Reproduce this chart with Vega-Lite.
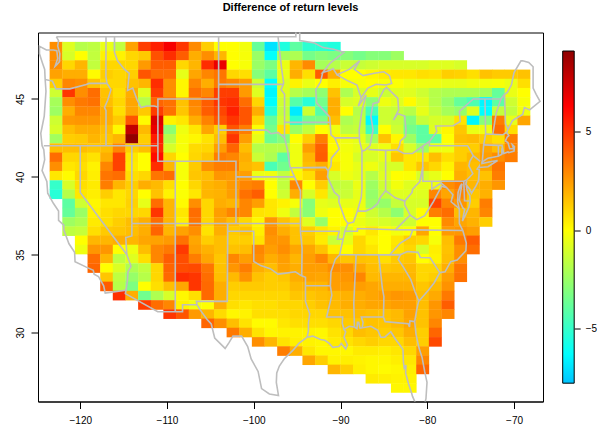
{"$schema":"https://vega.github.io/schema/vega-lite/v6.json","background":"white","padding":{"left":14,"top":1.5,"right":0,"bottom":0},"spacing":17.7,
"config":{"font":"Liberation Sans","view":{"stroke":null}},
"datasets":{"cells":[
{"lon":-122.78,"lat":48.36,"z":2.8},{"lon":-121.32,"lat":48.36,"z":-0.8},{"lon":-119.87,"lat":48.36,"z":-1.8},{"lon":-118.41,"lat":48.36,"z":-1.6},{"lon":-116.95,"lat":48.36,"z":-0.5},{"lon":-115.5,"lat":48.36,"z":-1.5},{"lon":-114.04,"lat":48.36,"z":2.3},{"lon":-112.58,"lat":48.36,"z":4.8},{"lon":-111.12,"lat":48.36,"z":5.5},{"lon":-109.67,"lat":48.36,"z":6.5},{"lon":-108.21,"lat":48.36,"z":5},{"lon":-106.75,"lat":48.36,"z":2.9},{"lon":-105.3,"lat":48.36,"z":1.2},{"lon":-103.84,"lat":48.36,"z":0},{"lon":-102.38,"lat":48.36,"z":0},{"lon":-100.93,"lat":48.36,"z":-0.3},{"lon":-99.47,"lat":48.36,"z":-3.8},{"lon":-98.01,"lat":48.36,"z":-7},{"lon":-96.55,"lat":48.36,"z":-5.5},{"lon":-95.1,"lat":48.36,"z":-4},{"lon":-93.64,"lat":48.36,"z":-5.2},{"lon":-92.18,"lat":48.36,"z":-5.2},{"lon":-90.73,"lat":48.36,"z":-5.5},
{"lon":-122.78,"lat":47.77,"z":2.8},{"lon":-121.32,"lat":47.77,"z":-1},{"lon":-119.87,"lat":47.77,"z":0},{"lon":-118.41,"lat":47.77,"z":-1.5},{"lon":-116.95,"lat":47.77,"z":0.3},{"lon":-115.5,"lat":47.77,"z":0.3},{"lon":-114.04,"lat":47.77,"z":1},{"lon":-112.58,"lat":47.77,"z":1.3},{"lon":-111.12,"lat":47.77,"z":4.3},{"lon":-109.67,"lat":47.77,"z":5.2},{"lon":-108.21,"lat":47.77,"z":4},{"lon":-106.75,"lat":47.77,"z":2},{"lon":-105.3,"lat":47.77,"z":2.8},{"lon":-103.84,"lat":47.77,"z":1.8},{"lon":-102.38,"lat":47.77,"z":0},{"lon":-100.93,"lat":47.77,"z":-0.2},{"lon":-99.47,"lat":47.77,"z":-2.5},{"lon":-98.01,"lat":47.77,"z":-6.2},{"lon":-96.55,"lat":47.77,"z":-2.2},{"lon":-95.1,"lat":47.77,"z":-2},{"lon":-93.64,"lat":47.77,"z":-3.4},{"lon":-92.18,"lat":47.77,"z":-3},{"lon":-90.73,"lat":47.77,"z":-3.2},{"lon":-89.27,"lat":47.77,"z":-3},{"lon":-87.81,"lat":47.77,"z":-3.4},{"lon":-86.36,"lat":47.77,"z":-3},{"lon":-84.9,"lat":47.77,"z":-3},{"lon":-83.44,"lat":47.77,"z":-2.4},
{"lon":-122.78,"lat":47.18,"z":2.8},{"lon":-121.32,"lat":47.18,"z":1},{"lon":-119.87,"lat":47.18,"z":1.8},{"lon":-118.41,"lat":47.18,"z":-1.5},{"lon":-116.95,"lat":47.18,"z":1},{"lon":-115.5,"lat":47.18,"z":1},{"lon":-114.04,"lat":47.18,"z":1},{"lon":-112.58,"lat":47.18,"z":2.5},{"lon":-111.12,"lat":47.18,"z":4},{"lon":-109.67,"lat":47.18,"z":4},{"lon":-108.21,"lat":47.18,"z":1},{"lon":-106.75,"lat":47.18,"z":1.8},{"lon":-105.3,"lat":47.18,"z":5.2},{"lon":-103.84,"lat":47.18,"z":6.8},{"lon":-102.38,"lat":47.18,"z":0},{"lon":-100.93,"lat":47.18,"z":-0.2},{"lon":-99.47,"lat":47.18,"z":-2.5},{"lon":-98.01,"lat":47.18,"z":-3.2},{"lon":-96.55,"lat":47.18,"z":-0.5},{"lon":-95.1,"lat":47.18,"z":1.8},{"lon":-93.64,"lat":47.18,"z":2.9},{"lon":-92.18,"lat":47.18,"z":-2.2},{"lon":-90.73,"lat":47.18,"z":-1.8},{"lon":-89.27,"lat":47.18,"z":-1.3},{"lon":-87.81,"lat":47.18,"z":-1.4},{"lon":-86.36,"lat":47.18,"z":-1.2},{"lon":-84.9,"lat":47.18,"z":-1},{"lon":-83.44,"lat":47.18,"z":-1},{"lon":-81.98,"lat":47.18,"z":-1},{"lon":-80.53,"lat":47.18,"z":-1},{"lon":-79.07,"lat":47.18,"z":-0.8},{"lon":-77.61,"lat":47.18,"z":-0.8},{"lon":-76.16,"lat":47.18,"z":-1},
{"lon":-122.78,"lat":46.58,"z":2.3},{"lon":-121.32,"lat":46.58,"z":2},{"lon":-119.87,"lat":46.58,"z":2},{"lon":-118.41,"lat":46.58,"z":0.1},{"lon":-116.95,"lat":46.58,"z":1.2},{"lon":-115.5,"lat":46.58,"z":1},{"lon":-114.04,"lat":46.58,"z":1.2},{"lon":-112.58,"lat":46.58,"z":4.2},{"lon":-111.12,"lat":46.58,"z":3.6},{"lon":-109.67,"lat":46.58,"z":3.6},{"lon":-108.21,"lat":46.58,"z":-0.6},{"lon":-106.75,"lat":46.58,"z":2.2},{"lon":-105.3,"lat":46.58,"z":3},{"lon":-103.84,"lat":46.58,"z":3.4},{"lon":-102.38,"lat":46.58,"z":1},{"lon":-100.93,"lat":46.58,"z":0.8},{"lon":-99.47,"lat":46.58,"z":-3},{"lon":-98.01,"lat":46.58,"z":-4},{"lon":-96.55,"lat":46.58,"z":-0.5},{"lon":-95.1,"lat":46.58,"z":2},{"lon":-93.64,"lat":46.58,"z":0.8},{"lon":-92.18,"lat":46.58,"z":4},{"lon":-90.73,"lat":46.58,"z":2},{"lon":-89.27,"lat":46.58,"z":0},{"lon":-87.81,"lat":46.58,"z":0},{"lon":-86.36,"lat":46.58,"z":0.2},{"lon":-84.9,"lat":46.58,"z":0.5},{"lon":-83.44,"lat":46.58,"z":0.6},{"lon":-81.98,"lat":46.58,"z":0.6},{"lon":-80.53,"lat":46.58,"z":0.8},{"lon":-79.07,"lat":46.58,"z":0.7},{"lon":-77.61,"lat":46.58,"z":1.2},{"lon":-76.16,"lat":46.58,"z":1.1},{"lon":-74.7,"lat":46.58,"z":0.8},{"lon":-73.24,"lat":46.58,"z":1.5},{"lon":-71.79,"lat":46.58,"z":1.3},{"lon":-70.33,"lat":46.58,"z":1.3},{"lon":-68.87,"lat":46.58,"z":1.5},
{"lon":-122.78,"lat":45.99,"z":1.2},{"lon":-121.32,"lat":45.99,"z":3},{"lon":-119.87,"lat":45.99,"z":2.8},{"lon":-118.41,"lat":45.99,"z":1.5},{"lon":-116.95,"lat":45.99,"z":1},{"lon":-115.5,"lat":45.99,"z":1},{"lon":-114.04,"lat":45.99,"z":1.5},{"lon":-112.58,"lat":45.99,"z":1.8},{"lon":-111.12,"lat":45.99,"z":5.2},{"lon":-109.67,"lat":45.99,"z":2.8},{"lon":-108.21,"lat":45.99,"z":0.2},{"lon":-106.75,"lat":45.99,"z":3},{"lon":-105.3,"lat":45.99,"z":2},{"lon":-103.84,"lat":45.99,"z":3.3},{"lon":-102.38,"lat":45.99,"z":3},{"lon":-100.93,"lat":45.99,"z":2.5},{"lon":-99.47,"lat":45.99,"z":-1.2},{"lon":-98.01,"lat":45.99,"z":-6.3},{"lon":-96.55,"lat":45.99,"z":-0.8},{"lon":-95.1,"lat":45.99,"z":0.3},{"lon":-93.64,"lat":45.99,"z":-0.5},{"lon":-92.18,"lat":45.99,"z":0},{"lon":-90.73,"lat":45.99,"z":0.4},{"lon":-89.27,"lat":45.99,"z":-0.2},{"lon":-87.81,"lat":45.99,"z":-0.2},{"lon":-86.36,"lat":45.99,"z":0},{"lon":-84.9,"lat":45.99,"z":-0.2},{"lon":-83.44,"lat":45.99,"z":-0.1},{"lon":-81.98,"lat":45.99,"z":-0.4},{"lon":-80.53,"lat":45.99,"z":-0.4},{"lon":-79.07,"lat":45.99,"z":-0.4},{"lon":-77.61,"lat":45.99,"z":-0.6},{"lon":-76.16,"lat":45.99,"z":-0.6},{"lon":-74.7,"lat":45.99,"z":-0.4},{"lon":-73.24,"lat":45.99,"z":-0.3},{"lon":-71.79,"lat":45.99,"z":-0.2},{"lon":-70.33,"lat":45.99,"z":-0.5},{"lon":-68.87,"lat":45.99,"z":0.8},
{"lon":-122.78,"lat":45.4,"z":-1.2},{"lon":-121.32,"lat":45.4,"z":5},{"lon":-119.87,"lat":45.4,"z":2.8},{"lon":-118.41,"lat":45.4,"z":3.6},{"lon":-116.95,"lat":45.4,"z":1.5},{"lon":-115.5,"lat":45.4,"z":0.8},{"lon":-114.04,"lat":45.4,"z":2},{"lon":-112.58,"lat":45.4,"z":-0.8},{"lon":-111.12,"lat":45.4,"z":4.8},{"lon":-109.67,"lat":45.4,"z":2.8},{"lon":-108.21,"lat":45.4,"z":0.2},{"lon":-106.75,"lat":45.4,"z":3.5},{"lon":-105.3,"lat":45.4,"z":3},{"lon":-103.84,"lat":45.4,"z":4.8},{"lon":-102.38,"lat":45.4,"z":4.8},{"lon":-100.93,"lat":45.4,"z":2.5},{"lon":-99.47,"lat":45.4,"z":-0.8},{"lon":-98.01,"lat":45.4,"z":-6.5},{"lon":-96.55,"lat":45.4,"z":-0.8},{"lon":-95.1,"lat":45.4,"z":-1.8},{"lon":-93.64,"lat":45.4,"z":-2.2},{"lon":-92.18,"lat":45.4,"z":-2.8},{"lon":-90.73,"lat":45.4,"z":1.5},{"lon":-89.27,"lat":45.4,"z":-2},{"lon":-87.81,"lat":45.4,"z":-1},{"lon":-86.36,"lat":45.4,"z":-0.6},{"lon":-84.9,"lat":45.4,"z":-1.3},{"lon":-83.44,"lat":45.4,"z":-0.8},{"lon":-81.98,"lat":45.4,"z":-0.8},{"lon":-80.53,"lat":45.4,"z":-1.2},{"lon":-79.07,"lat":45.4,"z":-1.8},{"lon":-77.61,"lat":45.4,"z":-2},{"lon":-76.16,"lat":45.4,"z":-2},{"lon":-74.7,"lat":45.4,"z":-2},{"lon":-73.24,"lat":45.4,"z":-2.2},{"lon":-71.79,"lat":45.4,"z":-3.8},{"lon":-70.33,"lat":45.4,"z":-0.5},{"lon":-68.87,"lat":45.4,"z":0},
{"lon":-122.78,"lat":44.81,"z":-2.2},{"lon":-121.32,"lat":44.81,"z":2.8},{"lon":-119.87,"lat":44.81,"z":3.3},{"lon":-118.41,"lat":44.81,"z":3.5},{"lon":-116.95,"lat":44.81,"z":1.6},{"lon":-115.5,"lat":44.81,"z":1},{"lon":-114.04,"lat":44.81,"z":2.2},{"lon":-112.58,"lat":44.81,"z":-1.8},{"lon":-111.12,"lat":44.81,"z":3.8},{"lon":-109.67,"lat":44.81,"z":3.5},{"lon":-108.21,"lat":44.81,"z":1.5},{"lon":-106.75,"lat":44.81,"z":3},{"lon":-105.3,"lat":44.81,"z":4},{"lon":-103.84,"lat":44.81,"z":5},{"lon":-102.38,"lat":44.81,"z":5.2},{"lon":-100.93,"lat":44.81,"z":3.6},{"lon":-99.47,"lat":44.81,"z":1},{"lon":-98.01,"lat":44.81,"z":-6.3},{"lon":-96.55,"lat":44.81,"z":-1.2},{"lon":-95.1,"lat":44.81,"z":-4.2},{"lon":-93.64,"lat":44.81,"z":-5.3},{"lon":-92.18,"lat":44.81,"z":-3.4},{"lon":-90.73,"lat":44.81,"z":2},{"lon":-89.27,"lat":44.81,"z":-1},{"lon":-87.81,"lat":44.81,"z":-0.8},{"lon":-86.36,"lat":44.81,"z":-2.8},{"lon":-84.9,"lat":44.81,"z":-0.4},{"lon":-83.44,"lat":44.81,"z":-0.8},{"lon":-81.98,"lat":44.81,"z":0.1},{"lon":-80.53,"lat":44.81,"z":-0.8},{"lon":-79.07,"lat":44.81,"z":-1.8},{"lon":-77.61,"lat":44.81,"z":-2.6},{"lon":-76.16,"lat":44.81,"z":-3.8},{"lon":-74.7,"lat":44.81,"z":-4.4},{"lon":-73.24,"lat":44.81,"z":-6.5},{"lon":-71.79,"lat":44.81,"z":-4},{"lon":-70.33,"lat":44.81,"z":-1.2},{"lon":-68.87,"lat":44.81,"z":-0.2},
{"lon":-122.78,"lat":44.21,"z":-2.4},{"lon":-121.32,"lat":44.21,"z":2},{"lon":-119.87,"lat":44.21,"z":3},{"lon":-118.41,"lat":44.21,"z":3},{"lon":-116.95,"lat":44.21,"z":2},{"lon":-115.5,"lat":44.21,"z":0.8},{"lon":-114.04,"lat":44.21,"z":2.2},{"lon":-112.58,"lat":44.21,"z":1.3},{"lon":-111.12,"lat":44.21,"z":4.8},{"lon":-109.67,"lat":44.21,"z":3.5},{"lon":-108.21,"lat":44.21,"z":1.4},{"lon":-106.75,"lat":44.21,"z":2.8},{"lon":-105.3,"lat":44.21,"z":4},{"lon":-103.84,"lat":44.21,"z":4.6},{"lon":-102.38,"lat":44.21,"z":5.5},{"lon":-100.93,"lat":44.21,"z":4.2},{"lon":-99.47,"lat":44.21,"z":2},{"lon":-98.01,"lat":44.21,"z":-5.4},{"lon":-96.55,"lat":44.21,"z":-1.5},{"lon":-95.1,"lat":44.21,"z":-6.8},{"lon":-93.64,"lat":44.21,"z":-1.2},{"lon":-92.18,"lat":44.21,"z":-4.2},{"lon":-90.73,"lat":44.21,"z":2},{"lon":-89.27,"lat":44.21,"z":0},{"lon":-87.81,"lat":44.21,"z":-1.8},{"lon":-86.36,"lat":44.21,"z":-4.5},{"lon":-84.9,"lat":44.21,"z":-1.2},{"lon":-83.44,"lat":44.21,"z":-1.4},{"lon":-81.98,"lat":44.21,"z":-1.8},{"lon":-80.53,"lat":44.21,"z":-0.6},{"lon":-79.07,"lat":44.21,"z":-1.5},{"lon":-77.61,"lat":44.21,"z":-2.2},{"lon":-76.16,"lat":44.21,"z":-2.6},{"lon":-74.7,"lat":44.21,"z":-0.8},{"lon":-73.24,"lat":44.21,"z":-6.3},{"lon":-71.79,"lat":44.21,"z":-1.5},{"lon":-70.33,"lat":44.21,"z":-1.5},{"lon":-68.87,"lat":44.21,"z":-0.4},
{"lon":-122.78,"lat":43.62,"z":-1.2},{"lon":-121.32,"lat":43.62,"z":2.5},{"lon":-119.87,"lat":43.62,"z":2.6},{"lon":-118.41,"lat":43.62,"z":2.6},{"lon":-116.95,"lat":43.62,"z":2},{"lon":-115.5,"lat":43.62,"z":1.3},{"lon":-114.04,"lat":43.62,"z":4.2},{"lon":-112.58,"lat":43.62,"z":0.1},{"lon":-111.12,"lat":43.62,"z":7.2},{"lon":-109.67,"lat":43.62,"z":0.3},{"lon":-108.21,"lat":43.62,"z":0.6},{"lon":-106.75,"lat":43.62,"z":2},{"lon":-105.3,"lat":43.62,"z":3.1},{"lon":-103.84,"lat":43.62,"z":4.2},{"lon":-102.38,"lat":43.62,"z":5},{"lon":-100.93,"lat":43.62,"z":4.2},{"lon":-99.47,"lat":43.62,"z":1},{"lon":-98.01,"lat":43.62,"z":-3.8},{"lon":-96.55,"lat":43.62,"z":-1.2},{"lon":-95.1,"lat":43.62,"z":-5.2},{"lon":-93.64,"lat":43.62,"z":-3.4},{"lon":-92.18,"lat":43.62,"z":-3.2},{"lon":-90.73,"lat":43.62,"z":1.6},{"lon":-89.27,"lat":43.62,"z":-2},{"lon":-87.81,"lat":43.62,"z":-1.6},{"lon":-86.36,"lat":43.62,"z":-6.4},{"lon":-84.9,"lat":43.62,"z":-1.2},{"lon":-83.44,"lat":43.62,"z":-1.5},{"lon":-81.98,"lat":43.62,"z":-3},{"lon":-80.53,"lat":43.62,"z":-1.4},{"lon":-79.07,"lat":43.62,"z":-1},{"lon":-77.61,"lat":43.62,"z":-1},{"lon":-76.16,"lat":43.62,"z":0.7},{"lon":-74.7,"lat":43.62,"z":-6.5},{"lon":-73.24,"lat":43.62,"z":-3},{"lon":-71.79,"lat":43.62,"z":3.2},{"lon":-70.33,"lat":43.62,"z":-0.6},{"lon":-68.87,"lat":43.62,"z":2.2},
{"lon":-122.78,"lat":43.03,"z":-1},{"lon":-121.32,"lat":43.03,"z":1.6},{"lon":-119.87,"lat":43.03,"z":2},{"lon":-118.41,"lat":43.03,"z":2},{"lon":-116.95,"lat":43.03,"z":1.6},{"lon":-115.5,"lat":43.03,"z":0.2},{"lon":-114.04,"lat":43.03,"z":7.8},{"lon":-112.58,"lat":43.03,"z":1.7},{"lon":-111.12,"lat":43.03,"z":6.8},{"lon":-109.67,"lat":43.03,"z":-2.8},{"lon":-108.21,"lat":43.03,"z":-0.4},{"lon":-106.75,"lat":43.03,"z":0.6},{"lon":-105.3,"lat":43.03,"z":2.2},{"lon":-103.84,"lat":43.03,"z":1.2},{"lon":-102.38,"lat":43.03,"z":4.2},{"lon":-100.93,"lat":43.03,"z":3.2},{"lon":-99.47,"lat":43.03,"z":-0.1},{"lon":-98.01,"lat":43.03,"z":-3.4},{"lon":-96.55,"lat":43.03,"z":0.6},{"lon":-95.1,"lat":43.03,"z":-2.4},{"lon":-93.64,"lat":43.03,"z":-1.5},{"lon":-92.18,"lat":43.03,"z":0},{"lon":-90.73,"lat":43.03,"z":-0.4},{"lon":-89.27,"lat":43.03,"z":-1.6},{"lon":-87.81,"lat":43.03,"z":-1.4},{"lon":-86.36,"lat":43.03,"z":-4.8},{"lon":-84.9,"lat":43.03,"z":0},{"lon":-83.44,"lat":43.03,"z":-1.2},{"lon":-81.98,"lat":43.03,"z":-3.4},{"lon":-80.53,"lat":43.03,"z":-4},{"lon":-79.07,"lat":43.03,"z":-0.8},{"lon":-77.61,"lat":43.03,"z":0.2},{"lon":-76.16,"lat":43.03,"z":1.4},{"lon":-74.7,"lat":43.03,"z":-0.5},{"lon":-73.24,"lat":43.03,"z":-0.4},{"lon":-71.79,"lat":43.03,"z":3.6},{"lon":-70.33,"lat":43.03,"z":0.8},
{"lon":-122.78,"lat":42.44,"z":-2.3},{"lon":-121.32,"lat":42.44,"z":1.2},{"lon":-119.87,"lat":42.44,"z":1.3},{"lon":-118.41,"lat":42.44,"z":1.8},{"lon":-116.95,"lat":42.44,"z":1.4},{"lon":-115.5,"lat":42.44,"z":1.8},{"lon":-114.04,"lat":42.44,"z":9},{"lon":-112.58,"lat":42.44,"z":1.2},{"lon":-111.12,"lat":42.44,"z":5.6},{"lon":-109.67,"lat":42.44,"z":-1.8},{"lon":-108.21,"lat":42.44,"z":-0.2},{"lon":-106.75,"lat":42.44,"z":0.2},{"lon":-105.3,"lat":42.44,"z":0.7},{"lon":-103.84,"lat":42.44,"z":1.6},{"lon":-102.38,"lat":42.44,"z":5},{"lon":-100.93,"lat":42.44,"z":2.4},{"lon":-99.47,"lat":42.44,"z":-0.6},{"lon":-98.01,"lat":42.44,"z":-3.6},{"lon":-96.55,"lat":42.44,"z":-3},{"lon":-95.1,"lat":42.44,"z":0},{"lon":-93.64,"lat":42.44,"z":1.2},{"lon":-92.18,"lat":42.44,"z":3.2},{"lon":-90.73,"lat":42.44,"z":0.2},{"lon":-89.27,"lat":42.44,"z":-0.4},{"lon":-87.81,"lat":42.44,"z":-0.6},{"lon":-86.36,"lat":42.44,"z":-2.2},{"lon":-84.9,"lat":42.44,"z":1.5},{"lon":-83.44,"lat":42.44,"z":0.2},{"lon":-81.98,"lat":42.44,"z":-2.4},{"lon":-80.53,"lat":42.44,"z":-4},{"lon":-79.07,"lat":42.44,"z":-4},{"lon":-77.61,"lat":42.44,"z":0},{"lon":-76.16,"lat":42.44,"z":1.6},{"lon":-74.7,"lat":42.44,"z":1.7},{"lon":-73.24,"lat":42.44,"z":1.2},{"lon":-71.79,"lat":42.44,"z":0.8},{"lon":-70.33,"lat":42.44,"z":3.2},
{"lon":-122.78,"lat":41.84,"z":1.6},{"lon":-121.32,"lat":41.84,"z":1.6},{"lon":-119.87,"lat":41.84,"z":1.6},{"lon":-118.41,"lat":41.84,"z":1.4},{"lon":-116.95,"lat":41.84,"z":1.6},{"lon":-115.5,"lat":41.84,"z":3},{"lon":-114.04,"lat":41.84,"z":1.2},{"lon":-112.58,"lat":41.84,"z":1.6},{"lon":-111.12,"lat":41.84,"z":5.3},{"lon":-109.67,"lat":41.84,"z":-1},{"lon":-108.21,"lat":41.84,"z":-0.2},{"lon":-106.75,"lat":41.84,"z":0.9},{"lon":-105.3,"lat":41.84,"z":1},{"lon":-103.84,"lat":41.84,"z":2.4},{"lon":-102.38,"lat":41.84,"z":3.8},{"lon":-100.93,"lat":41.84,"z":1.6},{"lon":-99.47,"lat":41.84,"z":-1.8},{"lon":-98.01,"lat":41.84,"z":-1.8},{"lon":-96.55,"lat":41.84,"z":-1.8},{"lon":-95.1,"lat":41.84,"z":-0.4},{"lon":-93.64,"lat":41.84,"z":2.4},{"lon":-92.18,"lat":41.84,"z":3.9},{"lon":-90.73,"lat":41.84,"z":0.1},{"lon":-89.27,"lat":41.84,"z":-0.3},{"lon":-87.81,"lat":41.84,"z":-0.6},{"lon":-86.36,"lat":41.84,"z":-0.8},{"lon":-84.9,"lat":41.84,"z":-0.4},{"lon":-83.44,"lat":41.84,"z":0.8},{"lon":-81.98,"lat":41.84,"z":-1},{"lon":-80.53,"lat":41.84,"z":-2.4},{"lon":-79.07,"lat":41.84,"z":-0.5},{"lon":-77.61,"lat":41.84,"z":-0.4},{"lon":-76.16,"lat":41.84,"z":1.2},{"lon":-74.7,"lat":41.84,"z":1.2},{"lon":-73.24,"lat":41.84,"z":2.2},{"lon":-71.79,"lat":41.84,"z":1.6},{"lon":-70.33,"lat":41.84,"z":3},
{"lon":-122.78,"lat":41.25,"z":3.6},{"lon":-121.32,"lat":41.25,"z":1},{"lon":-119.87,"lat":41.25,"z":1},{"lon":-118.41,"lat":41.25,"z":0.7},{"lon":-116.95,"lat":41.25,"z":2},{"lon":-115.5,"lat":41.25,"z":4.7},{"lon":-114.04,"lat":41.25,"z":0.6},{"lon":-112.58,"lat":41.25,"z":0},{"lon":-111.12,"lat":41.25,"z":6},{"lon":-109.67,"lat":41.25,"z":1},{"lon":-108.21,"lat":41.25,"z":0},{"lon":-106.75,"lat":41.25,"z":1},{"lon":-105.3,"lat":41.25,"z":1.4},{"lon":-103.84,"lat":41.25,"z":3.2},{"lon":-102.38,"lat":41.25,"z":3},{"lon":-100.93,"lat":41.25,"z":2},{"lon":-99.47,"lat":41.25,"z":-1.3},{"lon":-98.01,"lat":41.25,"z":-2},{"lon":-96.55,"lat":41.25,"z":-4},{"lon":-95.1,"lat":41.25,"z":-0.4},{"lon":-93.64,"lat":41.25,"z":1.8},{"lon":-92.18,"lat":41.25,"z":4},{"lon":-90.73,"lat":41.25,"z":0.3},{"lon":-89.27,"lat":41.25,"z":-0.2},{"lon":-87.81,"lat":41.25,"z":-1},{"lon":-86.36,"lat":41.25,"z":-1},{"lon":-84.9,"lat":41.25,"z":-0.6},{"lon":-83.44,"lat":41.25,"z":1.4},{"lon":-81.98,"lat":41.25,"z":0.6},{"lon":-80.53,"lat":41.25,"z":0.6},{"lon":-79.07,"lat":41.25,"z":1.6},{"lon":-77.61,"lat":41.25,"z":0.8},{"lon":-76.16,"lat":41.25,"z":1.2},{"lon":-74.7,"lat":41.25,"z":1.7},{"lon":-73.24,"lat":41.25,"z":2.4},{"lon":-71.79,"lat":41.25,"z":2.8},{"lon":-70.33,"lat":41.25,"z":3.2},
{"lon":-122.78,"lat":40.66,"z":2.8},{"lon":-121.32,"lat":40.66,"z":0.6},{"lon":-119.87,"lat":40.66,"z":0.8},{"lon":-118.41,"lat":40.66,"z":0.3},{"lon":-116.95,"lat":40.66,"z":3},{"lon":-115.5,"lat":40.66,"z":4.7},{"lon":-114.04,"lat":40.66,"z":0.5},{"lon":-112.58,"lat":40.66,"z":0},{"lon":-111.12,"lat":40.66,"z":5.2},{"lon":-109.67,"lat":40.66,"z":1.8},{"lon":-108.21,"lat":40.66,"z":-0.2},{"lon":-106.75,"lat":40.66,"z":1.3},{"lon":-105.3,"lat":40.66,"z":2.8},{"lon":-103.84,"lat":40.66,"z":3.2},{"lon":-102.38,"lat":40.66,"z":3.2},{"lon":-100.93,"lat":40.66,"z":1.8},{"lon":-99.47,"lat":40.66,"z":1.5},{"lon":-98.01,"lat":40.66,"z":-4.5},{"lon":-96.55,"lat":40.66,"z":-3.5},{"lon":-95.1,"lat":40.66,"z":-0.4},{"lon":-93.64,"lat":40.66,"z":1.6},{"lon":-92.18,"lat":40.66,"z":2},{"lon":-90.73,"lat":40.66,"z":0.6},{"lon":-89.27,"lat":40.66,"z":-0.2},{"lon":-87.81,"lat":40.66,"z":-0.6},{"lon":-86.36,"lat":40.66,"z":-0.4},{"lon":-84.9,"lat":40.66,"z":-1},{"lon":-83.44,"lat":40.66,"z":-1},{"lon":-81.98,"lat":40.66,"z":0.6},{"lon":-80.53,"lat":40.66,"z":1.4},{"lon":-79.07,"lat":40.66,"z":1},{"lon":-77.61,"lat":40.66,"z":0.3},{"lon":-76.16,"lat":40.66,"z":1.8},{"lon":-74.7,"lat":40.66,"z":1.6},{"lon":-73.24,"lat":40.66,"z":2.2},{"lon":-71.79,"lat":40.66,"z":3.4},
{"lon":-122.78,"lat":40.07,"z":0.6},{"lon":-121.32,"lat":40.07,"z":0.1},{"lon":-119.87,"lat":40.07,"z":1},{"lon":-118.41,"lat":40.07,"z":0.4},{"lon":-116.95,"lat":40.07,"z":3.4},{"lon":-115.5,"lat":40.07,"z":3.6},{"lon":-114.04,"lat":40.07,"z":0.8},{"lon":-112.58,"lat":40.07,"z":1},{"lon":-111.12,"lat":40.07,"z":3.4},{"lon":-109.67,"lat":40.07,"z":3.6},{"lon":-108.21,"lat":40.07,"z":-0.2},{"lon":-106.75,"lat":40.07,"z":1.4},{"lon":-105.3,"lat":40.07,"z":1.6},{"lon":-103.84,"lat":40.07,"z":2.6},{"lon":-102.38,"lat":40.07,"z":2.5},{"lon":-100.93,"lat":40.07,"z":2.4},{"lon":-99.47,"lat":40.07,"z":-0.5},{"lon":-98.01,"lat":40.07,"z":-0.4},{"lon":-96.55,"lat":40.07,"z":-1.5},{"lon":-95.1,"lat":40.07,"z":0.2},{"lon":-93.64,"lat":40.07,"z":0.8},{"lon":-92.18,"lat":40.07,"z":2.4},{"lon":-90.73,"lat":40.07,"z":-1},{"lon":-89.27,"lat":40.07,"z":-0.4},{"lon":-87.81,"lat":40.07,"z":-0.7},{"lon":-86.36,"lat":40.07,"z":-1.8},{"lon":-84.9,"lat":40.07,"z":-0.8},{"lon":-83.44,"lat":40.07,"z":0},{"lon":-81.98,"lat":40.07,"z":-0.1},{"lon":-80.53,"lat":40.07,"z":-1},{"lon":-79.07,"lat":40.07,"z":-0.6},{"lon":-77.61,"lat":40.07,"z":0},{"lon":-76.16,"lat":40.07,"z":2},{"lon":-74.7,"lat":40.07,"z":1.6},{"lon":-73.24,"lat":40.07,"z":1.5},{"lon":-71.79,"lat":40.07,"z":3.2},
{"lon":-122.78,"lat":39.47,"z":-5},{"lon":-121.32,"lat":39.47,"z":-1},{"lon":-119.87,"lat":39.47,"z":0.8},{"lon":-118.41,"lat":39.47,"z":0.5},{"lon":-116.95,"lat":39.47,"z":3.2},{"lon":-115.5,"lat":39.47,"z":1.8},{"lon":-114.04,"lat":39.47,"z":1.2},{"lon":-112.58,"lat":39.47,"z":2},{"lon":-111.12,"lat":39.47,"z":1.7},{"lon":-109.67,"lat":39.47,"z":0.8},{"lon":-108.21,"lat":39.47,"z":0},{"lon":-106.75,"lat":39.47,"z":1},{"lon":-105.3,"lat":39.47,"z":1.8},{"lon":-103.84,"lat":39.47,"z":2},{"lon":-102.38,"lat":39.47,"z":2.5},{"lon":-100.93,"lat":39.47,"z":3},{"lon":-99.47,"lat":39.47,"z":3.2},{"lon":-98.01,"lat":39.47,"z":0},{"lon":-96.55,"lat":39.47,"z":-1.5},{"lon":-95.1,"lat":39.47,"z":3},{"lon":-93.64,"lat":39.47,"z":0},{"lon":-92.18,"lat":39.47,"z":1.2},{"lon":-90.73,"lat":39.47,"z":-1.6},{"lon":-89.27,"lat":39.47,"z":-1.4},{"lon":-87.81,"lat":39.47,"z":-0.5},{"lon":-86.36,"lat":39.47,"z":-2.4},{"lon":-84.9,"lat":39.47,"z":-1.2},{"lon":-83.44,"lat":39.47,"z":-0.3},{"lon":-81.98,"lat":39.47,"z":-0.8},{"lon":-80.53,"lat":39.47,"z":-0.6},{"lon":-79.07,"lat":39.47,"z":-0.4},{"lon":-77.61,"lat":39.47,"z":2.8},{"lon":-76.16,"lat":39.47,"z":3.2},{"lon":-74.7,"lat":39.47,"z":1.8},{"lon":-73.24,"lat":39.47,"z":2},{"lon":-71.79,"lat":39.47,"z":2.6},
{"lon":-122.78,"lat":38.88,"z":-5.3},{"lon":-121.32,"lat":38.88,"z":-1.8},{"lon":-119.87,"lat":38.88,"z":0.6},{"lon":-118.41,"lat":38.88,"z":0.4},{"lon":-116.95,"lat":38.88,"z":1.2},{"lon":-115.5,"lat":38.88,"z":0.6},{"lon":-114.04,"lat":38.88,"z":1},{"lon":-112.58,"lat":38.88,"z":0},{"lon":-111.12,"lat":38.88,"z":1.5},{"lon":-109.67,"lat":38.88,"z":0.3},{"lon":-108.21,"lat":38.88,"z":-0.1},{"lon":-106.75,"lat":38.88,"z":0.6},{"lon":-105.3,"lat":38.88,"z":1.8},{"lon":-103.84,"lat":38.88,"z":1.9},{"lon":-102.38,"lat":38.88,"z":2.4},{"lon":-100.93,"lat":38.88,"z":3.5},{"lon":-99.47,"lat":38.88,"z":4},{"lon":-98.01,"lat":38.88,"z":0},{"lon":-96.55,"lat":38.88,"z":-1.2},{"lon":-95.1,"lat":38.88,"z":2},{"lon":-93.64,"lat":38.88,"z":-1},{"lon":-92.18,"lat":38.88,"z":0.6},{"lon":-90.73,"lat":38.88,"z":-1.4},{"lon":-89.27,"lat":38.88,"z":-1.3},{"lon":-87.81,"lat":38.88,"z":-0.6},{"lon":-86.36,"lat":38.88,"z":-2.6},{"lon":-84.9,"lat":38.88,"z":-1.5},{"lon":-83.44,"lat":38.88,"z":-0.8},{"lon":-81.98,"lat":38.88,"z":-0.8},{"lon":-80.53,"lat":38.88,"z":-0.8},{"lon":-79.07,"lat":38.88,"z":3},{"lon":-77.61,"lat":38.88,"z":2.2},{"lon":-76.16,"lat":38.88,"z":3},{"lon":-74.7,"lat":38.88,"z":1.4},{"lon":-73.24,"lat":38.88,"z":1.9},
{"lon":-121.32,"lat":38.29,"z":-4},{"lon":-119.87,"lat":38.29,"z":-1.2},{"lon":-118.41,"lat":38.29,"z":0.2},{"lon":-116.95,"lat":38.29,"z":0.6},{"lon":-115.5,"lat":38.29,"z":0.6},{"lon":-114.04,"lat":38.29,"z":1.1},{"lon":-112.58,"lat":38.29,"z":-0.6},{"lon":-111.12,"lat":38.29,"z":3.6},{"lon":-109.67,"lat":38.29,"z":1.8},{"lon":-108.21,"lat":38.29,"z":0.1},{"lon":-106.75,"lat":38.29,"z":2.8},{"lon":-105.3,"lat":38.29,"z":1},{"lon":-103.84,"lat":38.29,"z":2},{"lon":-102.38,"lat":38.29,"z":1.8},{"lon":-100.93,"lat":38.29,"z":3},{"lon":-99.47,"lat":38.29,"z":2.4},{"lon":-98.01,"lat":38.29,"z":0.6},{"lon":-96.55,"lat":38.29,"z":0.3},{"lon":-95.1,"lat":38.29,"z":-0.2},{"lon":-93.64,"lat":38.29,"z":-3},{"lon":-92.18,"lat":38.29,"z":-0.6},{"lon":-90.73,"lat":38.29,"z":-0.8},{"lon":-89.27,"lat":38.29,"z":-0.6},{"lon":-87.81,"lat":38.29,"z":-0.5},{"lon":-86.36,"lat":38.29,"z":-2.4},{"lon":-84.9,"lat":38.29,"z":-2.6},{"lon":-83.44,"lat":38.29,"z":-1.4},{"lon":-81.98,"lat":38.29,"z":-1},{"lon":-80.53,"lat":38.29,"z":-1},{"lon":-79.07,"lat":38.29,"z":4.6},{"lon":-77.61,"lat":38.29,"z":3},{"lon":-76.16,"lat":38.29,"z":2.6},{"lon":-74.7,"lat":38.29,"z":1.2},{"lon":-73.24,"lat":38.29,"z":3.2},
{"lon":-121.32,"lat":37.7,"z":-3.8},{"lon":-119.87,"lat":37.7,"z":-2.5},{"lon":-118.41,"lat":37.7,"z":0.3},{"lon":-116.95,"lat":37.7,"z":0.8},{"lon":-115.5,"lat":37.7,"z":1},{"lon":-114.04,"lat":37.7,"z":1},{"lon":-112.58,"lat":37.7,"z":1},{"lon":-111.12,"lat":37.7,"z":5},{"lon":-109.67,"lat":37.7,"z":1.8},{"lon":-108.21,"lat":37.7,"z":0.6},{"lon":-106.75,"lat":37.7,"z":3.6},{"lon":-105.3,"lat":37.7,"z":1},{"lon":-103.84,"lat":37.7,"z":2.4},{"lon":-102.38,"lat":37.7,"z":3},{"lon":-100.93,"lat":37.7,"z":3},{"lon":-99.47,"lat":37.7,"z":0.7},{"lon":-98.01,"lat":37.7,"z":0.6},{"lon":-96.55,"lat":37.7,"z":-0.4},{"lon":-95.1,"lat":37.7,"z":-1.5},{"lon":-93.64,"lat":37.7,"z":-2.9},{"lon":-92.18,"lat":37.7,"z":-0.4},{"lon":-90.73,"lat":37.7,"z":0},{"lon":-89.27,"lat":37.7,"z":0},{"lon":-87.81,"lat":37.7,"z":-0.3},{"lon":-86.36,"lat":37.7,"z":-1.2},{"lon":-84.9,"lat":37.7,"z":-1.8},{"lon":-83.44,"lat":37.7,"z":-2.8},{"lon":-81.98,"lat":37.7,"z":-1},{"lon":-80.53,"lat":37.7,"z":0},{"lon":-79.07,"lat":37.7,"z":3.2},{"lon":-77.61,"lat":37.7,"z":3.6},{"lon":-76.16,"lat":37.7,"z":1.6},{"lon":-74.7,"lat":37.7,"z":1.8},{"lon":-73.24,"lat":37.7,"z":3},
{"lon":-121.32,"lat":37.1,"z":-2.4},{"lon":-119.87,"lat":37.1,"z":-2},{"lon":-118.41,"lat":37.1,"z":0.5},{"lon":-116.95,"lat":37.1,"z":0.8},{"lon":-115.5,"lat":37.1,"z":1.2},{"lon":-114.04,"lat":37.1,"z":1.6},{"lon":-112.58,"lat":37.1,"z":2},{"lon":-111.12,"lat":37.1,"z":3.6},{"lon":-109.67,"lat":37.1,"z":1.8},{"lon":-108.21,"lat":37.1,"z":0.4},{"lon":-106.75,"lat":37.1,"z":3.4},{"lon":-105.3,"lat":37.1,"z":1},{"lon":-103.84,"lat":37.1,"z":2.2},{"lon":-102.38,"lat":37.1,"z":1.6},{"lon":-100.93,"lat":37.1,"z":1},{"lon":-99.47,"lat":37.1,"z":0.2},{"lon":-98.01,"lat":37.1,"z":2.6},{"lon":-96.55,"lat":37.1,"z":1.5},{"lon":-95.1,"lat":37.1,"z":1},{"lon":-93.64,"lat":37.1,"z":-0.8},{"lon":-92.18,"lat":37.1,"z":-2.6},{"lon":-90.73,"lat":37.1,"z":0},{"lon":-89.27,"lat":37.1,"z":0},{"lon":-87.81,"lat":37.1,"z":-0.5},{"lon":-86.36,"lat":37.1,"z":-0.8},{"lon":-84.9,"lat":37.1,"z":-1},{"lon":-83.44,"lat":37.1,"z":-1.2},{"lon":-81.98,"lat":37.1,"z":-1.2},{"lon":-80.53,"lat":37.1,"z":0},{"lon":-79.07,"lat":37.1,"z":0},{"lon":-77.61,"lat":37.1,"z":2.9},{"lon":-76.16,"lat":37.1,"z":2.2},{"lon":-74.7,"lat":37.1,"z":1.9},{"lon":-73.24,"lat":37.1,"z":1.2},
{"lon":-121.32,"lat":36.51,"z":-1.6},{"lon":-119.87,"lat":36.51,"z":-1.4},{"lon":-118.41,"lat":36.51,"z":0.8},{"lon":-116.95,"lat":36.51,"z":1.3},{"lon":-115.5,"lat":36.51,"z":1.4},{"lon":-114.04,"lat":36.51,"z":1.6},{"lon":-112.58,"lat":36.51,"z":2},{"lon":-111.12,"lat":36.51,"z":3.8},{"lon":-109.67,"lat":36.51,"z":1.8},{"lon":-108.21,"lat":36.51,"z":2.3},{"lon":-106.75,"lat":36.51,"z":2.8},{"lon":-105.3,"lat":36.51,"z":0.7},{"lon":-103.84,"lat":36.51,"z":2},{"lon":-102.38,"lat":36.51,"z":1.3},{"lon":-100.93,"lat":36.51,"z":1.5},{"lon":-99.47,"lat":36.51,"z":0.4},{"lon":-98.01,"lat":36.51,"z":2.8},{"lon":-96.55,"lat":36.51,"z":2},{"lon":-95.1,"lat":36.51,"z":1.5},{"lon":-93.64,"lat":36.51,"z":1.2},{"lon":-92.18,"lat":36.51,"z":0.6},{"lon":-90.73,"lat":36.51,"z":0.3},{"lon":-89.27,"lat":36.51,"z":-1},{"lon":-87.81,"lat":36.51,"z":0.1},{"lon":-86.36,"lat":36.51,"z":0.6},{"lon":-84.9,"lat":36.51,"z":0},{"lon":-83.44,"lat":36.51,"z":-0.3},{"lon":-81.98,"lat":36.51,"z":-0.1},{"lon":-80.53,"lat":36.51,"z":2.2},{"lon":-79.07,"lat":36.51,"z":0},{"lon":-77.61,"lat":36.51,"z":2.5},{"lon":-76.16,"lat":36.51,"z":2.6},{"lon":-74.7,"lat":36.51,"z":2.4},
{"lon":-119.87,"lat":35.92,"z":0},{"lon":-118.41,"lat":35.92,"z":1.8},{"lon":-116.95,"lat":35.92,"z":1.8},{"lon":-115.5,"lat":35.92,"z":2},{"lon":-114.04,"lat":35.92,"z":1.8},{"lon":-112.58,"lat":35.92,"z":2.2},{"lon":-111.12,"lat":35.92,"z":2.3},{"lon":-109.67,"lat":35.92,"z":2.5},{"lon":-108.21,"lat":35.92,"z":3.5},{"lon":-106.75,"lat":35.92,"z":2.2},{"lon":-105.3,"lat":35.92,"z":1.2},{"lon":-103.84,"lat":35.92,"z":1.6},{"lon":-102.38,"lat":35.92,"z":1.2},{"lon":-100.93,"lat":35.92,"z":1.2},{"lon":-99.47,"lat":35.92,"z":0.7},{"lon":-98.01,"lat":35.92,"z":2.6},{"lon":-96.55,"lat":35.92,"z":2.6},{"lon":-95.1,"lat":35.92,"z":1.5},{"lon":-93.64,"lat":35.92,"z":1.4},{"lon":-92.18,"lat":35.92,"z":0.5},{"lon":-90.73,"lat":35.92,"z":-1.3},{"lon":-89.27,"lat":35.92,"z":-0.6},{"lon":-87.81,"lat":35.92,"z":1},{"lon":-86.36,"lat":35.92,"z":0.3},{"lon":-84.9,"lat":35.92,"z":0},{"lon":-83.44,"lat":35.92,"z":0.6},{"lon":-81.98,"lat":35.92,"z":1.2},{"lon":-80.53,"lat":35.92,"z":1},{"lon":-79.07,"lat":35.92,"z":-0.2},{"lon":-77.61,"lat":35.92,"z":1.6},{"lon":-76.16,"lat":35.92,"z":3.3},{"lon":-74.7,"lat":35.92,"z":4},
{"lon":-119.87,"lat":35.33,"z":-0.4},{"lon":-118.41,"lat":35.33,"z":2.6},{"lon":-116.95,"lat":35.33,"z":2.6},{"lon":-115.5,"lat":35.33,"z":0},{"lon":-114.04,"lat":35.33,"z":-0.4},{"lon":-112.58,"lat":35.33,"z":1.6},{"lon":-111.12,"lat":35.33,"z":3},{"lon":-109.67,"lat":35.33,"z":3.3},{"lon":-108.21,"lat":35.33,"z":4.9},{"lon":-106.75,"lat":35.33,"z":2.4},{"lon":-105.3,"lat":35.33,"z":1.9},{"lon":-103.84,"lat":35.33,"z":1.6},{"lon":-102.38,"lat":35.33,"z":1.5},{"lon":-100.93,"lat":35.33,"z":1.6},{"lon":-99.47,"lat":35.33,"z":3},{"lon":-98.01,"lat":35.33,"z":2.4},{"lon":-96.55,"lat":35.33,"z":2.8},{"lon":-95.1,"lat":35.33,"z":2.2},{"lon":-93.64,"lat":35.33,"z":2.2},{"lon":-92.18,"lat":35.33,"z":1.5},{"lon":-90.73,"lat":35.33,"z":0.4},{"lon":-89.27,"lat":35.33,"z":0},{"lon":-87.81,"lat":35.33,"z":1},{"lon":-86.36,"lat":35.33,"z":0.6},{"lon":-84.9,"lat":35.33,"z":0},{"lon":-83.44,"lat":35.33,"z":0.7},{"lon":-81.98,"lat":35.33,"z":1},{"lon":-80.53,"lat":35.33,"z":-1},{"lon":-79.07,"lat":35.33,"z":0.4},{"lon":-77.61,"lat":35.33,"z":1.5},{"lon":-76.16,"lat":35.33,"z":2.8},{"lon":-74.7,"lat":35.33,"z":3.6},
{"lon":-118.41,"lat":34.74,"z":3.6},{"lon":-116.95,"lat":34.74,"z":1.8},{"lon":-115.5,"lat":34.74,"z":-1.6},{"lon":-114.04,"lat":34.74,"z":-0.8},{"lon":-112.58,"lat":34.74,"z":0.8},{"lon":-111.12,"lat":34.74,"z":3},{"lon":-109.67,"lat":34.74,"z":4},{"lon":-108.21,"lat":34.74,"z":4.4},{"lon":-106.75,"lat":34.74,"z":3.2},{"lon":-105.3,"lat":34.74,"z":2.2},{"lon":-103.84,"lat":34.74,"z":1.4},{"lon":-102.38,"lat":34.74,"z":3},{"lon":-100.93,"lat":34.74,"z":2.4},{"lon":-99.47,"lat":34.74,"z":2.8},{"lon":-98.01,"lat":34.74,"z":2},{"lon":-96.55,"lat":34.74,"z":2.4},{"lon":-95.1,"lat":34.74,"z":1.8},{"lon":-93.64,"lat":34.74,"z":2.4},{"lon":-92.18,"lat":34.74,"z":3},{"lon":-90.73,"lat":34.74,"z":1.8},{"lon":-89.27,"lat":34.74,"z":1.4},{"lon":-87.81,"lat":34.74,"z":1.5},{"lon":-86.36,"lat":34.74,"z":1.4},{"lon":-84.9,"lat":34.74,"z":0.8},{"lon":-83.44,"lat":34.74,"z":1.3},{"lon":-81.98,"lat":34.74,"z":1.4},{"lon":-80.53,"lat":34.74,"z":0},{"lon":-79.07,"lat":34.74,"z":0.3},{"lon":-77.61,"lat":34.74,"z":1.6},{"lon":-76.16,"lat":34.74,"z":2.8},
{"lon":-118.41,"lat":34.14,"z":3.8},{"lon":-116.95,"lat":34.14,"z":0},{"lon":-115.5,"lat":34.14,"z":-0.9},{"lon":-114.04,"lat":34.14,"z":-2},{"lon":-112.58,"lat":34.14,"z":-1.5},{"lon":-111.12,"lat":34.14,"z":1},{"lon":-109.67,"lat":34.14,"z":3.8},{"lon":-108.21,"lat":34.14,"z":4.4},{"lon":-106.75,"lat":34.14,"z":4.5},{"lon":-105.3,"lat":34.14,"z":3.4},{"lon":-103.84,"lat":34.14,"z":1.5},{"lon":-102.38,"lat":34.14,"z":2.6},{"lon":-100.93,"lat":34.14,"z":3.2},{"lon":-99.47,"lat":34.14,"z":2},{"lon":-98.01,"lat":34.14,"z":1.6},{"lon":-96.55,"lat":34.14,"z":2.3},{"lon":-95.1,"lat":34.14,"z":2},{"lon":-93.64,"lat":34.14,"z":2.4},{"lon":-92.18,"lat":34.14,"z":2.4},{"lon":-90.73,"lat":34.14,"z":2.8},{"lon":-89.27,"lat":34.14,"z":2.8},{"lon":-87.81,"lat":34.14,"z":2.2},{"lon":-86.36,"lat":34.14,"z":1.6},{"lon":-84.9,"lat":34.14,"z":1.4},{"lon":-83.44,"lat":34.14,"z":1.5},{"lon":-81.98,"lat":34.14,"z":1.7},{"lon":-80.53,"lat":34.14,"z":1},{"lon":-79.07,"lat":34.14,"z":1},{"lon":-77.61,"lat":34.14,"z":2},{"lon":-76.16,"lat":34.14,"z":3.4},
{"lon":-116.95,"lat":33.55,"z":1.4},{"lon":-115.5,"lat":33.55,"z":-1.6},{"lon":-114.04,"lat":33.55,"z":-2.6},{"lon":-112.58,"lat":33.55,"z":-1.8},{"lon":-111.12,"lat":33.55,"z":1},{"lon":-109.67,"lat":33.55,"z":3.7},{"lon":-108.21,"lat":33.55,"z":5.2},{"lon":-106.75,"lat":33.55,"z":5},{"lon":-105.3,"lat":33.55,"z":3.6},{"lon":-103.84,"lat":33.55,"z":1.6},{"lon":-102.38,"lat":33.55,"z":1.7},{"lon":-100.93,"lat":33.55,"z":2.7},{"lon":-99.47,"lat":33.55,"z":1.5},{"lon":-98.01,"lat":33.55,"z":1.2},{"lon":-96.55,"lat":33.55,"z":1.4},{"lon":-95.1,"lat":33.55,"z":2},{"lon":-93.64,"lat":33.55,"z":2.3},{"lon":-92.18,"lat":33.55,"z":2.2},{"lon":-90.73,"lat":33.55,"z":2.4},{"lon":-89.27,"lat":33.55,"z":2.6},{"lon":-87.81,"lat":33.55,"z":3},{"lon":-86.36,"lat":33.55,"z":1.7},{"lon":-84.9,"lat":33.55,"z":1.8},{"lon":-83.44,"lat":33.55,"z":1.8},{"lon":-81.98,"lat":33.55,"z":1.8},{"lon":-80.53,"lat":33.55,"z":1},{"lon":-79.07,"lat":33.55,"z":1.2},{"lon":-77.61,"lat":33.55,"z":2.4},{"lon":-76.16,"lat":33.55,"z":3.5},
{"lon":-116.95,"lat":32.96,"z":4},{"lon":-115.5,"lat":32.96,"z":-1.8},{"lon":-114.04,"lat":32.96,"z":-3.2},{"lon":-112.58,"lat":32.96,"z":0},{"lon":-111.12,"lat":32.96,"z":0.8},{"lon":-109.67,"lat":32.96,"z":1.6},{"lon":-108.21,"lat":32.96,"z":2.2},{"lon":-106.75,"lat":32.96,"z":5},{"lon":-105.3,"lat":32.96,"z":3.7},{"lon":-103.84,"lat":32.96,"z":2},{"lon":-102.38,"lat":32.96,"z":1.2},{"lon":-100.93,"lat":32.96,"z":1.3},{"lon":-99.47,"lat":32.96,"z":1.3},{"lon":-98.01,"lat":32.96,"z":1.2},{"lon":-96.55,"lat":32.96,"z":1.2},{"lon":-95.1,"lat":32.96,"z":1.7},{"lon":-93.64,"lat":32.96,"z":1.8},{"lon":-92.18,"lat":32.96,"z":1.8},{"lon":-90.73,"lat":32.96,"z":2.4},{"lon":-89.27,"lat":32.96,"z":2.4},{"lon":-87.81,"lat":32.96,"z":2.4},{"lon":-86.36,"lat":32.96,"z":2.2},{"lon":-84.9,"lat":32.96,"z":2},{"lon":-83.44,"lat":32.96,"z":2},{"lon":-81.98,"lat":32.96,"z":2},{"lon":-80.53,"lat":32.96,"z":1.4},{"lon":-79.07,"lat":32.96,"z":1.7},{"lon":-77.61,"lat":32.96,"z":2.7},
{"lon":-115.5,"lat":32.37,"z":5.2},{"lon":-114.04,"lat":32.37,"z":2},{"lon":-112.58,"lat":32.37,"z":-3.5},{"lon":-111.12,"lat":32.37,"z":-2},{"lon":-109.67,"lat":32.37,"z":-1},{"lon":-108.21,"lat":32.37,"z":0.2},{"lon":-106.75,"lat":32.37,"z":0.8},{"lon":-105.3,"lat":32.37,"z":3.7},{"lon":-103.84,"lat":32.37,"z":2},{"lon":-102.38,"lat":32.37,"z":1},{"lon":-100.93,"lat":32.37,"z":1},{"lon":-99.47,"lat":32.37,"z":1},{"lon":-98.01,"lat":32.37,"z":1},{"lon":-96.55,"lat":32.37,"z":1},{"lon":-95.1,"lat":32.37,"z":1.4},{"lon":-93.64,"lat":32.37,"z":1.4},{"lon":-92.18,"lat":32.37,"z":1.6},{"lon":-90.73,"lat":32.37,"z":1.7},{"lon":-89.27,"lat":32.37,"z":1.9},{"lon":-87.81,"lat":32.37,"z":2},{"lon":-86.36,"lat":32.37,"z":2.2},{"lon":-84.9,"lat":32.37,"z":2.4},{"lon":-83.44,"lat":32.37,"z":2.6},{"lon":-81.98,"lat":32.37,"z":2.5},{"lon":-80.53,"lat":32.37,"z":1.6},{"lon":-79.07,"lat":32.37,"z":2.1},{"lon":-77.61,"lat":32.37,"z":3.3},
{"lon":-112.58,"lat":31.77,"z":4.8},{"lon":-111.12,"lat":31.77,"z":3.6},{"lon":-109.67,"lat":31.77,"z":3},{"lon":-108.21,"lat":31.77,"z":0.3},{"lon":-106.75,"lat":31.77,"z":-0.3},{"lon":-105.3,"lat":31.77,"z":0},{"lon":-103.84,"lat":31.77,"z":2},{"lon":-102.38,"lat":31.77,"z":0.8},{"lon":-100.93,"lat":31.77,"z":0.6},{"lon":-99.47,"lat":31.77,"z":0.8},{"lon":-98.01,"lat":31.77,"z":0.8},{"lon":-96.55,"lat":31.77,"z":1},{"lon":-95.1,"lat":31.77,"z":1},{"lon":-93.64,"lat":31.77,"z":1.2},{"lon":-92.18,"lat":31.77,"z":1.5},{"lon":-90.73,"lat":31.77,"z":1.7},{"lon":-89.27,"lat":31.77,"z":2},{"lon":-87.81,"lat":31.77,"z":2},{"lon":-86.36,"lat":31.77,"z":2.2},{"lon":-84.9,"lat":31.77,"z":2.2},{"lon":-83.44,"lat":31.77,"z":2.4},{"lon":-81.98,"lat":31.77,"z":2.4},{"lon":-80.53,"lat":31.77,"z":1.6},{"lon":-79.07,"lat":31.77,"z":2.6},{"lon":-77.61,"lat":31.77,"z":4},
{"lon":-109.67,"lat":31.18,"z":5},{"lon":-108.21,"lat":31.18,"z":4.2},{"lon":-106.75,"lat":31.18,"z":2.5},{"lon":-105.3,"lat":31.18,"z":1.8},{"lon":-103.84,"lat":31.18,"z":0.9},{"lon":-102.38,"lat":31.18,"z":0.2},{"lon":-100.93,"lat":31.18,"z":0.3},{"lon":-99.47,"lat":31.18,"z":0.8},{"lon":-98.01,"lat":31.18,"z":0.8},{"lon":-96.55,"lat":31.18,"z":0.8},{"lon":-95.1,"lat":31.18,"z":1},{"lon":-93.64,"lat":31.18,"z":1},{"lon":-92.18,"lat":31.18,"z":1},{"lon":-90.73,"lat":31.18,"z":1.5},{"lon":-89.27,"lat":31.18,"z":1.5},{"lon":-87.81,"lat":31.18,"z":1.7},{"lon":-86.36,"lat":31.18,"z":1.6},{"lon":-84.9,"lat":31.18,"z":1.5},{"lon":-83.44,"lat":31.18,"z":1.7},{"lon":-81.98,"lat":31.18,"z":2.3},{"lon":-80.53,"lat":31.18,"z":1.5},{"lon":-79.07,"lat":31.18,"z":2.6},{"lon":-77.61,"lat":31.18,"z":3},
{"lon":-105.3,"lat":30.59,"z":3.8},{"lon":-103.84,"lat":30.59,"z":2.8},{"lon":-102.38,"lat":30.59,"z":1.6},{"lon":-100.93,"lat":30.59,"z":0.7},{"lon":-99.47,"lat":30.59,"z":0.1},{"lon":-98.01,"lat":30.59,"z":0.1},{"lon":-96.55,"lat":30.59,"z":0.6},{"lon":-95.1,"lat":30.59,"z":0.8},{"lon":-93.64,"lat":30.59,"z":0.8},{"lon":-92.18,"lat":30.59,"z":0.8},{"lon":-90.73,"lat":30.59,"z":1},{"lon":-89.27,"lat":30.59,"z":1.3},{"lon":-87.81,"lat":30.59,"z":1.3},{"lon":-86.36,"lat":30.59,"z":1.5},{"lon":-84.9,"lat":30.59,"z":1.4},{"lon":-83.44,"lat":30.59,"z":1.7},{"lon":-81.98,"lat":30.59,"z":2.2},{"lon":-80.53,"lat":30.59,"z":1.5},{"lon":-79.07,"lat":30.59,"z":3},
{"lon":-102.38,"lat":30,"z":3.3},{"lon":-100.93,"lat":30,"z":2},{"lon":-99.47,"lat":30,"z":0.7},{"lon":-98.01,"lat":30,"z":0.2},{"lon":-96.55,"lat":30,"z":0.3},{"lon":-95.1,"lat":30,"z":0.3},{"lon":-93.64,"lat":30,"z":0.3},{"lon":-92.18,"lat":30,"z":0.2},{"lon":-90.73,"lat":30,"z":0.7},{"lon":-89.27,"lat":30,"z":1},{"lon":-87.81,"lat":30,"z":1.6},{"lon":-86.36,"lat":30,"z":1.4},{"lon":-84.9,"lat":30,"z":1.2},{"lon":-83.44,"lat":30,"z":1.4},{"lon":-81.98,"lat":30,"z":2},{"lon":-80.53,"lat":30,"z":1.2},{"lon":-79.07,"lat":30,"z":3.8},
{"lon":-99.47,"lat":29.4,"z":2.8},{"lon":-98.01,"lat":29.4,"z":1.8},{"lon":-96.55,"lat":29.4,"z":0.7},{"lon":-95.1,"lat":29.4,"z":0.4},{"lon":-93.64,"lat":29.4,"z":0.3},{"lon":-92.18,"lat":29.4,"z":0.2},{"lon":-90.73,"lat":29.4,"z":0.5},{"lon":-89.27,"lat":29.4,"z":0.7},{"lon":-87.81,"lat":29.4,"z":1},{"lon":-86.36,"lat":29.4,"z":1.2},{"lon":-84.9,"lat":29.4,"z":1},{"lon":-83.44,"lat":29.4,"z":1},{"lon":-81.98,"lat":29.4,"z":1.6},{"lon":-80.53,"lat":29.4,"z":1.2},{"lon":-79.07,"lat":29.4,"z":4.5},
{"lon":-96.55,"lat":28.81,"z":3.2},{"lon":-95.1,"lat":28.81,"z":2},{"lon":-93.64,"lat":28.81,"z":0.6},{"lon":-92.18,"lat":28.81,"z":0.2},{"lon":-90.73,"lat":28.81,"z":0.2},{"lon":-89.27,"lat":28.81,"z":0.2},{"lon":-87.81,"lat":28.81,"z":0.5},{"lon":-86.36,"lat":28.81,"z":0.5},{"lon":-84.9,"lat":28.81,"z":0.4},{"lon":-83.44,"lat":28.81,"z":0.6},{"lon":-81.98,"lat":28.81,"z":1},{"lon":-80.53,"lat":28.81,"z":2.4},
{"lon":-93.64,"lat":28.22,"z":2.2},{"lon":-92.18,"lat":28.22,"z":1.2},{"lon":-90.73,"lat":28.22,"z":0.3},{"lon":-89.27,"lat":28.22,"z":0.4},{"lon":-87.81,"lat":28.22,"z":0.3},{"lon":-86.36,"lat":28.22,"z":0.2},{"lon":-84.9,"lat":28.22,"z":0.2},{"lon":-83.44,"lat":28.22,"z":0.4},{"lon":-81.98,"lat":28.22,"z":0.6},{"lon":-80.53,"lat":28.22,"z":3},
{"lon":-90.73,"lat":27.63,"z":1.8},{"lon":-89.27,"lat":27.63,"z":1.2},{"lon":-87.81,"lat":27.63,"z":0.4},{"lon":-86.36,"lat":27.63,"z":0.2},{"lon":-84.9,"lat":27.63,"z":0.1},{"lon":-83.44,"lat":27.63,"z":0.2},{"lon":-81.98,"lat":27.63,"z":0.4},{"lon":-80.53,"lat":27.63,"z":3.8},
{"lon":-86.36,"lat":27.03,"z":0.5},{"lon":-84.9,"lat":27.03,"z":0.4},{"lon":-83.44,"lat":27.03,"z":0.3},{"lon":-81.98,"lat":27.03,"z":0.3},
{"lon":-83.44,"lat":26.44,"z":0.2},{"lon":-81.98,"lat":26.44,"z":0.2}],
"map":[
{"p":1,"lon":-122.76,"lat":49},{"p":1,"lon":-122.5,"lat":48.75},{"p":1,"lon":-122.6,"lat":48.4},{"p":1,"lon":-122.35,"lat":47.9},{"p":1,"lon":-122.4,"lat":47.4},{"p":1,"lon":-122.7,"lat":47.2},{"p":1,"lon":-122.9,"lat":47.1},{"p":1,"lon":-122.6,"lat":47.6},{"p":1,"lon":-122.7,"lat":48.1},{"p":1,"lon":-123.1,"lat":48.15},{"p":1,"lon":-123.9,"lat":48.15},{"p":1,"lon":-124.7,"lat":48.38},{"p":1,"lon":-124.7,"lat":47.9},{"p":1,"lon":-124.35,"lat":47.3},{"p":1,"lon":-124.1,"lat":46.9},{"p":1,"lon":-124.05,"lat":46.3},{"p":1,"lon":-123.95,"lat":45.5},{"p":1,"lon":-124.05,"lat":44.7},{"p":1,"lon":-124.15,"lat":43.9},{"p":1,"lon":-124.4,"lat":43.2},{"p":1,"lon":-124.55,"lat":42.8},{"p":1,"lon":-124.4,"lat":42},{"p":1,"lon":-124.2,"lat":41.75},{"p":1,"lon":-124.1,"lat":41.1},{"p":1,"lon":-124.4,"lat":40.4},{"p":1,"lon":-123.85,"lat":39.7},{"p":1,"lon":-123.75,"lat":38.95},{"p":1,"lon":-123.1,"lat":38.3},{"p":1,"lon":-122.5,"lat":37.8},{"p":1,"lon":-122.5,"lat":37.2},{"p":1,"lon":-121.9,"lat":36.9},{"p":1,"lon":-121.9,"lat":36.6},{"p":1,"lon":-121.3,"lat":35.7},{"p":1,"lon":-120.65,"lat":35.15},{"p":1,"lon":-120.6,"lat":34.55},{"p":1,"lon":-119.3,"lat":34.2},{"p":1,"lon":-118.5,"lat":34},{"p":1,"lon":-118.4,"lat":33.75},{"p":1,"lon":-117.9,"lat":33.6},{"p":1,"lon":-117.3,"lat":33},{"p":1,"lon":-117.12,"lat":32.53},{"p":1,"lon":-114.72,"lat":32.72},{"p":1,"lon":-114.8,"lat":32.5},{"p":1,"lon":-111.07,"lat":31.33},{"p":1,"lon":-108.21,"lat":31.33},{"p":1,"lon":-108.21,"lat":31.78},{"p":1,"lon":-106.53,"lat":31.78},{"p":1,"lon":-106.2,"lat":31.47},{"p":1,"lon":-105.4,"lat":30.85},{"p":1,"lon":-104.9,"lat":30.55},{"p":1,"lon":-104.5,"lat":29.65},{"p":1,"lon":-103.3,"lat":28.98},{"p":1,"lon":-102.85,"lat":29.35},{"p":1,"lon":-102.4,"lat":29.77},{"p":1,"lon":-101.4,"lat":29.77},{"p":1,"lon":-100.7,"lat":29.1},{"p":1,"lon":-100.3,"lat":28.3},{"p":1,"lon":-99.5,"lat":27.5},{"p":1,"lon":-99.1,"lat":26.4},{"p":1,"lon":-98.2,"lat":26.05},{"p":1,"lon":-97.15,"lat":25.96},{"p":1,"lon":-97.4,"lat":26.8},{"p":1,"lon":-97.35,"lat":27.4},{"p":1,"lon":-97.05,"lat":27.85},{"p":1,"lon":-96.5,"lat":28.3},{"p":1,"lon":-95.5,"lat":28.85},{"p":1,"lon":-94.8,"lat":29.3},{"p":1,"lon":-93.85,"lat":29.7},{"p":1,"lon":-93.2,"lat":29.77},{"p":1,"lon":-92.3,"lat":29.55},{"p":1,"lon":-91.8,"lat":29.5},{"p":1,"lon":-91.3,"lat":29.3},{"p":1,"lon":-90.9,"lat":29.05},{"p":1,"lon":-90.2,"lat":29.1},{"p":1,"lon":-89.9,"lat":29.3},{"p":1,"lon":-89.4,"lat":28.95},{"p":1,"lon":-89.2,"lat":29.2},{"p":1,"lon":-89.6,"lat":29.7},{"p":1,"lon":-89.4,"lat":30.05},{"p":1,"lon":-89.6,"lat":30.2},{"p":1,"lon":-89,"lat":30.4},{"p":1,"lon":-88.4,"lat":30.35},{"p":1,"lon":-88.1,"lat":30.25},{"p":1,"lon":-88.05,"lat":30.65},{"p":1,"lon":-87.9,"lat":30.65},{"p":1,"lon":-87.75,"lat":30.28},{"p":1,"lon":-86.5,"lat":30.4},{"p":1,"lon":-85.7,"lat":30.15},{"p":1,"lon":-85.35,"lat":29.7},{"p":1,"lon":-84.9,"lat":29.7},{"p":1,"lon":-84.2,"lat":30.05},{"p":1,"lon":-83.7,"lat":29.6},{"p":1,"lon":-83.1,"lat":29.15},{"p":1,"lon":-82.8,"lat":28.9},{"p":1,"lon":-82.75,"lat":28.1},{"p":1,"lon":-82.65,"lat":27.7},{"p":1,"lon":-82.45,"lat":27.9},{"p":1,"lon":-82.5,"lat":27.4},{"p":1,"lon":-82.15,"lat":26.7},{"p":1,"lon":-81.8,"lat":26.1},{"p":1,"lon":-81.7,"lat":25.9},{"p":1,"lon":-81.15,"lat":25.2},{"p":1,"lon":-80.4,"lat":25.2},{"p":1,"lon":-80.15,"lat":25.75},{"p":1,"lon":-80.03,"lat":26.8},{"p":1,"lon":-80.3,"lat":27.5},{"p":1,"lon":-80.6,"lat":28.4},{"p":1,"lon":-80.95,"lat":29},{"p":1,"lon":-81.3,"lat":29.9},{"p":1,"lon":-81.45,"lat":30.7},{"p":1,"lon":-81.2,"lat":31.5},{"p":1,"lon":-81,"lat":32},{"p":1,"lon":-80.45,"lat":32.35},{"p":1,"lon":-79.9,"lat":32.7},{"p":1,"lon":-79.2,"lat":33.2},{"p":1,"lon":-78.55,"lat":33.85},{"p":1,"lon":-77.95,"lat":33.9},{"p":1,"lon":-77.3,"lat":34.55},{"p":1,"lon":-76.55,"lat":34.65},{"p":1,"lon":-75.55,"lat":35.25},{"p":1,"lon":-75.5,"lat":35.75},{"p":1,"lon":-75.9,"lat":36.55},{"p":1,"lon":-76.3,"lat":37},{"p":1,"lon":-76.3,"lat":37.9},{"p":1,"lon":-76.5,"lat":38.4},{"p":1,"lon":-76.45,"lat":39},{"p":1,"lon":-76.2,"lat":39.4},{"p":1,"lon":-76,"lat":39.55},{"p":1,"lon":-76.2,"lat":38.9},{"p":1,"lon":-76.3,"lat":38.5},{"p":1,"lon":-75.9,"lat":38},{"p":1,"lon":-75.7,"lat":37.9},{"p":1,"lon":-75.95,"lat":37.15},{"p":1,"lon":-75.6,"lat":37.55},{"p":1,"lon":-75.2,"lat":38.05},{"p":1,"lon":-75.05,"lat":38.45},{"p":1,"lon":-75.1,"lat":38.8},{"p":1,"lon":-75.4,"lat":39.1},{"p":1,"lon":-75.55,"lat":39.6},{"p":1,"lon":-75.45,"lat":39.75},{"p":1,"lon":-75.55,"lat":39.5},{"p":1,"lon":-75.1,"lat":39.2},{"p":1,"lon":-74.9,"lat":38.95},{"p":1,"lon":-74.4,"lat":39.4},{"p":1,"lon":-74.1,"lat":39.75},{"p":1,"lon":-74,"lat":40.45},{"p":1,"lon":-74.25,"lat":40.5},{"p":1,"lon":-74,"lat":40.7},{"p":1,"lon":-74,"lat":40.6},{"p":1,"lon":-73,"lat":40.65},{"p":1,"lon":-71.9,"lat":41.05},{"p":1,"lon":-72.6,"lat":40.98},{"p":1,"lon":-73.7,"lat":40.85},{"p":1,"lon":-73.7,"lat":40.95},{"p":1,"lon":-73,"lat":41.2},{"p":1,"lon":-72,"lat":41.3},{"p":1,"lon":-71.85,"lat":41.32},{"p":1,"lon":-71.4,"lat":41.45},{"p":1,"lon":-71.4,"lat":41.7},{"p":1,"lon":-71.2,"lat":41.5},{"p":1,"lon":-70.7,"lat":41.6},{"p":1,"lon":-70.6,"lat":41.55},{"p":1,"lon":-70,"lat":41.65},{"p":1,"lon":-69.95,"lat":41.95},{"p":1,"lon":-70.2,"lat":42.07},{"p":1,"lon":-70.05,"lat":41.8},{"p":1,"lon":-70.5,"lat":41.8},{"p":1,"lon":-70.7,"lat":42.2},{"p":1,"lon":-71,"lat":42.3},{"p":1,"lon":-70.8,"lat":42.55},{"p":1,"lon":-70.6,"lat":42.65},{"p":1,"lon":-70.85,"lat":42.85},{"p":1,"lon":-70.7,"lat":43.05},{"p":1,"lon":-70.2,"lat":43.6},{"p":1,"lon":-69.8,"lat":43.75},{"p":1,"lon":-69,"lat":44},{"p":1,"lon":-68.8,"lat":44.45},{"p":1,"lon":-68.2,"lat":44.3},{"p":1,"lon":-67,"lat":44.85},{"p":1,"lon":-67.45,"lat":45.3},{"p":1,"lon":-67.8,"lat":45.7},{"p":1,"lon":-67.8,"lat":47.07},{"p":1,"lon":-68.3,"lat":47.35},{"p":1,"lon":-69,"lat":47.45},{"p":1,"lon":-69.2,"lat":47.45},{"p":1,"lon":-70,"lat":46.7},{"p":1,"lon":-70.3,"lat":45.9},{"p":1,"lon":-70.8,"lat":45.4},{"p":1,"lon":-71.1,"lat":45.3},{"p":1,"lon":-71.5,"lat":45},{"p":1,"lon":-74.7,"lat":45},{"p":1,"lon":-76.3,"lat":44.2},{"p":1,"lon":-76.2,"lat":43.55},{"p":1,"lon":-77,"lat":43.28},{"p":1,"lon":-79.05,"lat":43.27},{"p":1,"lon":-78.9,"lat":42.9},{"p":1,"lon":-79.75,"lat":42.27},{"p":1,"lon":-80.5,"lat":41.98},{"p":1,"lon":-81.7,"lat":41.5},{"p":1,"lon":-82.7,"lat":41.5},{"p":1,"lon":-83.45,"lat":41.72},{"p":1,"lon":-83.2,"lat":42},{"p":1,"lon":-83.1,"lat":42.3},{"p":1,"lon":-82.5,"lat":42.6},{"p":1,"lon":-82.45,"lat":43},{"p":1,"lon":-82.6,"lat":43.9},{"p":1,"lon":-83.4,"lat":44.05},{"p":1,"lon":-83.9,"lat":43.65},{"p":1,"lon":-83.3,"lat":44.3},{"p":1,"lon":-83.4,"lat":45.05},{"p":1,"lon":-84.7,"lat":45.75},{"p":1,"lon":-85,"lat":45.6},{"p":1,"lon":-85.55,"lat":45},{"p":1,"lon":-85.6,"lat":44.8},{"p":1,"lon":-86.25,"lat":44.7},{"p":1,"lon":-86.5,"lat":43.9},{"p":1,"lon":-86.25,"lat":43},{"p":1,"lon":-86.6,"lat":42},{"p":1,"lon":-87.2,"lat":41.7},{"p":1,"lon":-87.5,"lat":41.65},{"p":1,"lon":-87.8,"lat":42.3},{"p":1,"lon":-87.85,"lat":43},{"p":1,"lon":-87.55,"lat":44.2},{"p":1,"lon":-87.05,"lat":45.25},{"p":1,"lon":-87.95,"lat":44.55},{"p":1,"lon":-87.6,"lat":45.1},{"p":1,"lon":-86.85,"lat":45.7},{"p":1,"lon":-85.9,"lat":45.95},{"p":1,"lon":-84.75,"lat":45.9},{"p":1,"lon":-84.1,"lat":46},{"p":1,"lon":-84.35,"lat":46.5},{"p":1,"lon":-85,"lat":46.75},{"p":1,"lon":-86.1,"lat":46.65},{"p":1,"lon":-87.4,"lat":46.5},{"p":1,"lon":-88.4,"lat":46.9},{"p":1,"lon":-87.8,"lat":47.45},{"p":1,"lon":-89,"lat":46.9},{"p":1,"lon":-90.4,"lat":46.55},{"p":1,"lon":-90.85,"lat":46.95},{"p":1,"lon":-91.2,"lat":46.85},{"p":1,"lon":-92.05,"lat":46.7},{"p":1,"lon":-91.2,"lat":47.3},{"p":1,"lon":-89.6,"lat":48},{"p":1,"lon":-90.8,"lat":48.2},{"p":1,"lon":-92,"lat":48.3},{"p":1,"lon":-93,"lat":48.6},{"p":1,"lon":-94.7,"lat":48.75},{"p":1,"lon":-94.7,"lat":49.35},{"p":1,"lon":-95.15,"lat":49.38},{"p":1,"lon":-95.15,"lat":49},{"p":1,"lon":-122.76,"lat":49},
{"p":2,"lon":-124.05,"lat":46.25},{"p":2,"lon":-123.2,"lat":46.15},{"p":2,"lon":-122.8,"lat":45.65},{"p":2,"lon":-121.2,"lat":45.65},{"p":2,"lon":-119.3,"lat":45.93},{"p":2,"lon":-119,"lat":46},{"p":2,"lon":-116.92,"lat":46},
{"p":3,"lon":-117.03,"lat":49},{"p":3,"lon":-117.04,"lat":46.42},{"p":3,"lon":-116.92,"lat":46},{"p":3,"lon":-116.46,"lat":45.6},{"p":3,"lon":-116.85,"lat":44.9},{"p":3,"lon":-117.2,"lat":44.45},{"p":3,"lon":-117.03,"lat":44.25},{"p":3,"lon":-117.03,"lat":42},
{"p":4,"lon":-124.2,"lat":42},{"p":4,"lon":-111.05,"lat":42},
{"p":5,"lon":-120,"lat":42},{"p":5,"lon":-120,"lat":39},{"p":5,"lon":-114.63,"lat":35},{"p":5,"lon":-114.15,"lat":34.25},{"p":5,"lon":-114.5,"lat":33.9},{"p":5,"lon":-114.55,"lat":33.4},{"p":5,"lon":-114.72,"lat":32.72},
{"p":6,"lon":-114.63,"lat":35},{"p":6,"lon":-114.75,"lat":36.1},{"p":6,"lon":-114.05,"lat":36.2},{"p":6,"lon":-114.05,"lat":37},
{"p":7,"lon":-114.05,"lat":42},{"p":7,"lon":-114.05,"lat":37},
{"p":8,"lon":-114.05,"lat":37},{"p":8,"lon":-94.62,"lat":37},
{"p":9,"lon":-116.05,"lat":49},{"p":9,"lon":-116.05,"lat":48},{"p":9,"lon":-115.7,"lat":47.45},{"p":9,"lon":-114.9,"lat":46.9},{"p":9,"lon":-114.35,"lat":46.65},{"p":9,"lon":-114.55,"lat":45.55},{"p":9,"lon":-113.95,"lat":45.7},{"p":9,"lon":-113.45,"lat":44.95},{"p":9,"lon":-113,"lat":44.45},{"p":9,"lon":-112.3,"lat":44.55},{"p":9,"lon":-111.5,"lat":44.55},{"p":9,"lon":-111.05,"lat":44.48},
{"p":10,"lon":-104.05,"lat":45},{"p":10,"lon":-111.05,"lat":45},{"p":10,"lon":-111.05,"lat":41},{"p":10,"lon":-109.05,"lat":41},{"p":10,"lon":-102.05,"lat":41},{"p":10,"lon":-102.05,"lat":40},{"p":10,"lon":-102.05,"lat":37},
{"p":11,"lon":-104.05,"lat":41},{"p":11,"lon":-104.05,"lat":49},
{"p":12,"lon":-104.05,"lat":43},{"p":12,"lon":-98.5,"lat":43},{"p":12,"lon":-98,"lat":42.77},{"p":12,"lon":-97.2,"lat":42.85},{"p":12,"lon":-96.45,"lat":42.5},
{"p":13,"lon":-109.05,"lat":41},{"p":13,"lon":-109.05,"lat":31.33},
{"p":14,"lon":-102.05,"lat":40},{"p":14,"lon":-95.3,"lat":40},
{"p":15,"lon":-103,"lat":37},{"p":15,"lon":-103,"lat":36.5},{"p":15,"lon":-103.05,"lat":32},{"p":15,"lon":-106.62,"lat":32},{"p":15,"lon":-106.53,"lat":31.78},
{"p":16,"lon":-103,"lat":36.5},{"p":16,"lon":-100,"lat":36.5},{"p":16,"lon":-100,"lat":34.56},{"p":16,"lon":-99.2,"lat":34.3},{"p":16,"lon":-98.1,"lat":34.1},{"p":16,"lon":-97.2,"lat":33.75},{"p":16,"lon":-96.5,"lat":33.8},{"p":16,"lon":-95.2,"lat":33.9},{"p":16,"lon":-94.48,"lat":33.64},{"p":16,"lon":-94.04,"lat":33.55},{"p":16,"lon":-94.04,"lat":33},{"p":16,"lon":-94.04,"lat":32},{"p":16,"lon":-93.55,"lat":31.2},{"p":16,"lon":-93.7,"lat":30.6},{"p":16,"lon":-93.7,"lat":30.1},{"p":16,"lon":-93.85,"lat":29.7},
{"p":17,"lon":-94.62,"lat":37},{"p":17,"lon":-94.62,"lat":36.5},{"p":17,"lon":-94.43,"lat":35.4},{"p":17,"lon":-94.48,"lat":33.64},
{"p":18,"lon":-94.04,"lat":33},{"p":18,"lon":-91.17,"lat":33},
{"p":19,"lon":-92.05,"lat":46.7},{"p":19,"lon":-92.3,"lat":46.1},{"p":19,"lon":-92.85,"lat":45.6},{"p":19,"lon":-92.75,"lat":44.75},{"p":19,"lon":-91.25,"lat":43.85},{"p":19,"lon":-91.2,"lat":43.5},{"p":19,"lon":-91.1,"lat":42.7},{"p":19,"lon":-90.65,"lat":42.5},{"p":19,"lon":-90.15,"lat":41.8},{"p":19,"lon":-91.05,"lat":41.2},{"p":19,"lon":-91.1,"lat":40.7},{"p":19,"lon":-91.42,"lat":40.38},{"p":19,"lon":-91.5,"lat":40},{"p":19,"lon":-90.7,"lat":39},{"p":19,"lon":-90.15,"lat":38.75},{"p":19,"lon":-90.2,"lat":38.4},{"p":19,"lon":-89.5,"lat":37.3},{"p":19,"lon":-89.15,"lat":37},{"p":19,"lon":-89.5,"lat":36.5},{"p":19,"lon":-89.7,"lat":36},{"p":19,"lon":-90.1,"lat":35},{"p":19,"lon":-90.6,"lat":34.7},{"p":19,"lon":-91.1,"lat":33.9},{"p":19,"lon":-91.17,"lat":33},{"p":19,"lon":-91,"lat":32.4},{"p":19,"lon":-91.6,"lat":31},{"p":19,"lon":-89.75,"lat":31},{"p":19,"lon":-89.8,"lat":30.6},{"p":19,"lon":-89.6,"lat":30.2},
{"p":20,"lon":-96.45,"lat":43.5},{"p":20,"lon":-91.2,"lat":43.5},
{"p":21,"lon":-90.65,"lat":42.5},{"p":21,"lon":-87.8,"lat":42.5},
{"p":22,"lon":-97.2,"lat":49},{"p":22,"lon":-96.8,"lat":47},{"p":22,"lon":-96.55,"lat":46},{"p":22,"lon":-96.85,"lat":45.6},{"p":22,"lon":-96.45,"lat":45.3},{"p":22,"lon":-96.45,"lat":43.5},{"p":22,"lon":-96.45,"lat":42.5},{"p":22,"lon":-96.1,"lat":41.7},{"p":22,"lon":-95.85,"lat":40.7},{"p":22,"lon":-95.3,"lat":40},{"p":22,"lon":-94.62,"lat":39.1},{"p":22,"lon":-94.62,"lat":37},
{"p":23,"lon":-104.05,"lat":45.94},{"p":23,"lon":-96.56,"lat":45.94},
{"p":24,"lon":-95.77,"lat":40.58},{"p":24,"lon":-91.73,"lat":40.61},{"p":24,"lon":-91.42,"lat":40.38},
{"p":25,"lon":-94.62,"lat":36.5},{"p":25,"lon":-90.15,"lat":36.5},{"p":25,"lon":-90.37,"lat":35.99},{"p":25,"lon":-89.7,"lat":36},
{"p":26,"lon":-89.5,"lat":36.5},{"p":26,"lon":-88.05,"lat":36.5},{"p":26,"lon":-88.05,"lat":36.68},{"p":26,"lon":-83.68,"lat":36.6},{"p":26,"lon":-81.68,"lat":36.59},{"p":26,"lon":-75.9,"lat":36.55},
{"p":27,"lon":-90.1,"lat":35},{"p":27,"lon":-84.32,"lat":34.99},{"p":27,"lon":-83.1,"lat":35},{"p":27,"lon":-83.35,"lat":34.7},{"p":27,"lon":-82.75,"lat":34.2},{"p":27,"lon":-81.9,"lat":33.4},{"p":27,"lon":-81.4,"lat":32.6},{"p":27,"lon":-81,"lat":32.05},
{"p":28,"lon":-88.2,"lat":35},{"p":28,"lon":-88.47,"lat":31.9},{"p":28,"lon":-88.4,"lat":30.35},
{"p":29,"lon":-85.6,"lat":34.98},{"p":29,"lon":-85.18,"lat":32.87},{"p":29,"lon":-85,"lat":32.3},{"p":29,"lon":-85.05,"lat":31},{"p":29,"lon":-84.86,"lat":30.7},{"p":29,"lon":-82.2,"lat":30.57},{"p":29,"lon":-82.05,"lat":30.36},{"p":29,"lon":-82,"lat":30.75},{"p":29,"lon":-81.45,"lat":30.7},
{"p":30,"lon":-87.5,"lat":30.3},{"p":30,"lon":-87.4,"lat":30.65},{"p":30,"lon":-87.6,"lat":31},{"p":30,"lon":-85.05,"lat":31},
{"p":31,"lon":-84.32,"lat":34.99},{"p":31,"lon":-83.1,"lat":35.75},{"p":31,"lon":-82,"lat":36.12},{"p":31,"lon":-81.68,"lat":36.59},
{"p":32,"lon":-83.1,"lat":35},{"p":32,"lon":-82.3,"lat":35.2},{"p":32,"lon":-81.05,"lat":35.15},{"p":32,"lon":-80.8,"lat":34.82},{"p":32,"lon":-79.67,"lat":34.8},{"p":32,"lon":-78.55,"lat":33.85},
{"p":33,"lon":-89.15,"lat":37},{"p":33,"lon":-88.5,"lat":37.1},{"p":33,"lon":-88.05,"lat":37.8},{"p":33,"lon":-87.1,"lat":37.8},{"p":33,"lon":-86.3,"lat":38},{"p":33,"lon":-85.7,"lat":38.3},{"p":33,"lon":-85.4,"lat":38.7},{"p":33,"lon":-84.8,"lat":39.1},{"p":33,"lon":-84.3,"lat":38.9},{"p":33,"lon":-83.7,"lat":38.65},{"p":33,"lon":-82.6,"lat":38.45},{"p":33,"lon":-81.75,"lat":39},{"p":33,"lon":-81.7,"lat":39.2},{"p":33,"lon":-80.85,"lat":39.7},{"p":33,"lon":-80.52,"lat":40.64},
{"p":34,"lon":-82.6,"lat":38.45},{"p":34,"lon":-82.6,"lat":38.2},{"p":34,"lon":-81.97,"lat":37.54},{"p":34,"lon":-83.68,"lat":36.6},
{"p":35,"lon":-81.97,"lat":37.54},{"p":35,"lon":-81.2,"lat":37.25},{"p":35,"lon":-80.3,"lat":37.5},{"p":35,"lon":-79.3,"lat":38.4},{"p":35,"lon":-78.35,"lat":39.4},{"p":35,"lon":-77.75,"lat":39.3},
{"p":36,"lon":-80.52,"lat":41.98},{"p":36,"lon":-80.52,"lat":39.72},{"p":36,"lon":-75.79,"lat":39.72},{"p":36,"lon":-75.45,"lat":39.8},
{"p":37,"lon":-79.48,"lat":39.72},{"p":37,"lon":-79.48,"lat":39.2},{"p":37,"lon":-78.4,"lat":39.6},{"p":37,"lon":-77.75,"lat":39.3},{"p":37,"lon":-77.05,"lat":38.85},{"p":37,"lon":-77.25,"lat":38.4},{"p":37,"lon":-76.3,"lat":37.95},
{"p":38,"lon":-75.79,"lat":39.72},{"p":38,"lon":-75.7,"lat":38.46},{"p":38,"lon":-75.05,"lat":38.45},
{"p":39,"lon":-79.75,"lat":42.27},{"p":39,"lon":-79.76,"lat":42},{"p":39,"lon":-75.35,"lat":42},{"p":39,"lon":-74.7,"lat":41.36},{"p":39,"lon":-73.9,"lat":41},
{"p":40,"lon":-74.7,"lat":41.36},{"p":40,"lon":-75.1,"lat":41},{"p":40,"lon":-75.2,"lat":40.7},{"p":40,"lon":-74.75,"lat":40.2},{"p":40,"lon":-75.45,"lat":39.8},
{"p":41,"lon":-73.65,"lat":41},{"p":41,"lon":-73.5,"lat":42.05},{"p":41,"lon":-73.27,"lat":42.75},{"p":41,"lon":-73.35,"lat":45},
{"p":42,"lon":-73.5,"lat":42.05},{"p":42,"lon":-71.8,"lat":42.02},{"p":42,"lon":-71.38,"lat":42.02},{"p":42,"lon":-71.2,"lat":41.5},
{"p":43,"lon":-71.8,"lat":42.02},{"p":43,"lon":-71.8,"lat":41.32},
{"p":44,"lon":-73.27,"lat":42.75},{"p":44,"lon":-71.3,"lat":42.7},{"p":44,"lon":-70.85,"lat":42.87},
{"p":45,"lon":-72.45,"lat":42.73},{"p":45,"lon":-72.05,"lat":44.1},{"p":45,"lon":-71.5,"lat":45},
{"p":46,"lon":-71.1,"lat":45.3},{"p":46,"lon":-70.98,"lat":43.4},{"p":46,"lon":-70.7,"lat":43.05},
{"p":47,"lon":-87.53,"lat":41.7},{"p":47,"lon":-87.53,"lat":39.3},{"p":47,"lon":-87.6,"lat":38.7},{"p":47,"lon":-88.05,"lat":37.8},
{"p":48,"lon":-84.8,"lat":41.7},{"p":48,"lon":-84.8,"lat":39.1},
{"p":49,"lon":-86.8,"lat":41.76},{"p":49,"lon":-84.8,"lat":41.7},{"p":49,"lon":-83.45,"lat":41.72},
{"p":50,"lon":-90.4,"lat":46.55},{"p":50,"lon":-89.1,"lat":46.15},{"p":50,"lon":-88.1,"lat":45.9},{"p":50,"lon":-87.8,"lat":45.35},{"p":50,"lon":-87.6,"lat":45.1}],
"bar":[{"lo":-7.77,"hi":9.09}]},
"hconcat":[{"width":505,"height":369,"view":{"stroke":"black","strokeWidth":1},
"title":{"text":"Difference of return levels","fontSize":11,"fontWeight":"bold","anchor":"middle","offset":19.5,"color":"black"},
"encoding":{"x":{"field":"lon","type":"quantitative","scale":{"domain":[-124.87,-66.66],"nice":false,"zero":false},"axis":{"values":[-120,-110,-100,-90,-80,-70],"title":null,"grid":false,"tickSize":7,"tickColor":"black","domainColor":"black","labelColor":"black","labelFontSize":10,"labelPadding":7,"labelFlush":false}},
"y":{"field":"lat","type":"quantitative","scale":{"domain":[25.57,49.27],"nice":false,"zero":false},"axis":{"values":[30,35,40,45],"title":null,"grid":false,"tickSize":7,"tickColor":"black","domainColor":"black","labelColor":"black","labelFontSize":10,"labelAngle":-90,"labelAlign":"center","labelBaseline":"bottom","labelPadding":6}}},
"layer":[{"data":{"name":"cells"},"mark":{"type":"rect","width":13,"height":9.6},"encoding":{"color":{"field":"z","type":"quantitative","legend":null,"scale":{"domain":[-7.77,-6.3,0,6.3,9.09],"range":["#00C3FF","#00FFFF","#FFFF00","#FF0000","#8F0000"],"interpolate":"rgb"}}}},
{"data":{"name":"map"},"mark":{"type":"line","order":false,"clip":true,"color":"#BEBEBE","strokeWidth":1.6},"encoding":{"detail":{"field":"p"}}}]},
{"width":11.5,"height":369,"data":{"name":"bar"},
"encoding":{"y":{"field":"lo","type":"quantitative","scale":{"domain":[-8.7,10.03],"nice":false,"zero":false},"axis":{"orient":"right","values":[-5,0,5],"title":null,"grid":false,"domain":false,"tickSize":6,"tickColor":"black","labelColor":"black","labelFontSize":10,"labelPadding":5}},"y2":{"field":"hi"}},
"layer":[{"mark":{"type":"rect","color":{"x1":0,"y1":1,"x2":0,"y2":0,"gradient":"linear","stops":[{"offset":0,"color":"#00C3FF"},{"offset":0.0872,"color":"#00FFFF"},{"offset":0.4609,"color":"#FFFF00"},{"offset":0.8345,"color":"#FF0000"},{"offset":1,"color":"#8F0000"}]}}},{"mark":{"type":"rect","fillOpacity":0,"stroke":"black","strokeWidth":1}}]}]}
